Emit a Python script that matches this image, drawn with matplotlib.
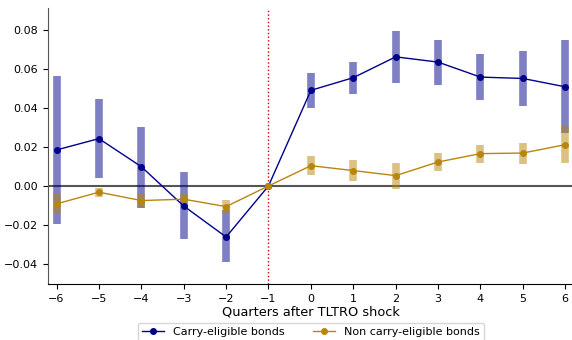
import matplotlib
matplotlib.use("Agg")
import matplotlib.pyplot as plt

# event-time quarters relative to the TLTRO shock
quarters = [-6, -5, -4, -3, -2, -1, 0, 1, 2, 3, 4, 5, 6]

# carry-eligible bonds: point estimates and confidence bands
carry = [0.0185, 0.0243, 0.0099, -0.0103, -0.0262, 0.0, 0.0491, 0.0556, 0.0663, 0.0636, 0.0559, 0.0552, 0.0509]
carry_lo = [-0.0196, 0.0039, -0.0111, -0.0274, -0.0393, None, 0.0400, 0.0473, 0.0528, 0.0520, 0.0443, 0.0410, 0.0270]
carry_hi = [0.0566, 0.0446, 0.0304, 0.0072, -0.0123, None, 0.0581, 0.0639, 0.0798, 0.0752, 0.0677, 0.0694, 0.0750]

# non carry-eligible bonds
noncarry = [-0.0092, -0.0032, -0.0075, -0.0068, -0.0106, 0.0, 0.0104, 0.0079, 0.0053, 0.0123, 0.0166, 0.0169, 0.0212]
noncarry_lo = [-0.0145, -0.0055, -0.0111, -0.0084, -0.0140, None, 0.0056, 0.0026, -0.0014, 0.0077, 0.0120, 0.0114, 0.0116]
noncarry_hi = [-0.0038, -0.0012, -0.0038, -0.0039, -0.0072, None, 0.0154, 0.0132, 0.0116, 0.0168, 0.0212, 0.0221, 0.0308]

blue = "#00008b"
gold = "#b8860b"

fig = plt.figure(figsize=(5.72, 3.4), dpi=100)
ax = fig.add_axes([0.084, 0.165, 0.919, 0.811])

# confidence bands as thick translucent bars
for q, lo, hi in zip(quarters, carry_lo, carry_hi):
    if lo is not None:
        ax.vlines(q, lo, hi, color=blue, alpha=0.5, lw=5.5, zorder=2)
for q, lo, hi in zip(quarters, noncarry_lo, noncarry_hi):
    if lo is not None:
        ax.vlines(q, lo, hi, color=gold, alpha=0.5, lw=5.5, zorder=2)

ax.axhline(0, color="#555555", lw=1.5, zorder=1)
ax.axvline(-1, color="#cc0000", ls=":", lw=1, zorder=1)

ax.plot(quarters, carry, color=blue, marker="o", ms=4, lw=1, label="Carry-eligible bonds", zorder=3)
ax.plot(quarters, noncarry, color=gold, marker="o", ms=4, lw=1, label="Non carry-eligible bonds", zorder=3)

ax.set_xlim(-6.2, 6.2)
ax.set_ylim(-0.0503, 0.0913)
ax.set_xticks(quarters)
ax.set_xticklabels([str(q).replace("-", "\u2212") for q in quarters])
ax.set_yticks([-0.04, -0.02, 0.0, 0.02, 0.04, 0.06, 0.08])
ax.tick_params(labelsize=8)
ax.spines["top"].set_visible(False)
ax.spines["right"].set_visible(False)
ax.spines["left"].set_color("#555555")
ax.set_xlabel("Quarters after TLTRO shock", fontsize=9.3, labelpad=1)

ax.legend(loc="upper center", bbox_to_anchor=(0.5, -0.12), ncol=2, fontsize=8,
          frameon=True, columnspacing=2.5)

fig.savefig("out.png", dpi=100)
